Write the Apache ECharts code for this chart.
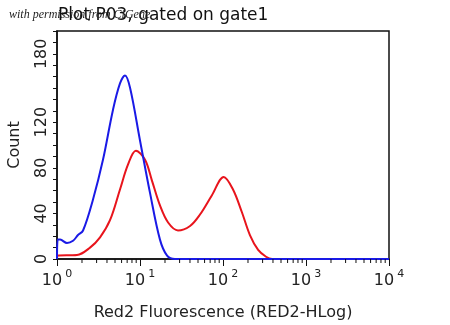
<!DOCTYPE html>
<html>
<head>
<meta charset="utf-8">
<script src="https://cdn.jsdelivr.net/npm/echarts@6/dist/echarts.min.js"></script>
<style>
  html, body { margin: 0; padding: 0; background: #fff; }
  #chart { width: 450px; height: 325px; }
</style>
</head>
<body>
<div id="chart"></div>
<script>
// Histogram of Red2 fluorescence (log scale) for two overlaid samples
const redX = [1, 1.02, 1.74, 2.5, 3.3, 4.35, 5.74, 7.18, 8.93, 11.5, 13.9, 17.4, 21.8, 28.7, 40.1, 52.8, 73.6, 102, 132, 169, 211, 265, 330, 391, 10000];
const redY = [0, 3, 3.5, 10, 19, 34, 61, 83, 95, 87, 69, 47, 32, 25, 29, 39, 56, 72, 61, 41, 21, 8, 2, 0, 0];

const blueX = [1, 1.02, 1.09, 1.32, 1.56, 1.79, 2.06, 2.71, 3.58, 4.73, 5.74, 6.6, 7.6, 10.0, 13.2, 17.4, 21.2, 26.4, 10000];
const blueY = [0, 17, 17, 14, 16, 21, 25, 52, 87, 131, 154, 161, 150, 104, 58, 17, 3, 0, 0];

const yTickLabels = [0, 40, 80, 120, 180];

// minor tick positions between decades (2..9 x 10^n)
const minorTicks = [];
for (let d = 0; d < 4; d++) {
  for (let m = 2; m <= 9; m++) minorTicks.push(m * Math.pow(10, d));
}

const FONT = 'DejaVu Sans';
const chart = echarts.init(document.getElementById('chart'));

chart.setOption({
  animation: false,
  backgroundColor: '#ffffff',
  graphic: [
    {
      type: 'text', left: 9, top: 9, z: 10,
      style: { text: 'with permission from CiGene', font: 'italic 12px "Liberation Serif"', fill: '#222' }
    }
  ],
  title: {
    text: 'Plot P03, gated on gate1',
    left: 53, top: 2,
    textStyle: { fontFamily: FONT, fontSize: 17, fontWeight: 'normal', color: '#111' }
  },
  grid: {
    left: 57, right: 61, top: 31, bottom: 66,
    outerBoundsMode: 'none', containLabel: false,
    show: true, borderColor: '#111', borderWidth: 1.5, backgroundColor: '#fff'
  },
  xAxis: {
    type: 'log', logBase: 10, min: 1, max: 10000,
    name: 'Red2 Fluorescence (RED2-HLog)',
    nameLocation: 'middle', nameGap: 46,
    nameTextStyle: { fontFamily: FONT, fontSize: 16, color: '#222' },
    axisLine: { lineStyle: { color: '#111', width: 1.5 } },
    axisTick: { inside: false, length: 7, lineStyle: { color: '#111' } },
    splitLine: { show: false },
    axisLabel: {
      margin: 10,
      showMaxLabel: true, showMinLabel: true,
      formatter: v => '{b|10}{s|' + Math.round(Math.log10(v)) + '}',
      rich: {
        b: { fontFamily: FONT, fontSize: 16, color: '#222' },
        s: { fontFamily: FONT, fontSize: 11, color: '#222', padding: [0, 0, 12, 3] }
      }
    }
  },
  yAxis: {
    type: 'value', min: 0, max: 200, interval: 10,
    name: 'Count', nameLocation: 'middle', nameGap: 34, nameRotate: 90,
    nameTextStyle: { fontFamily: FONT, fontSize: 16, color: '#222' },
    axisLine: { show: true, lineStyle: { color: '#111', width: 1.5 } },
    axisTick: { show: true, length: 4, lineStyle: { color: '#111' } },
    splitLine: { show: false },
    axisLabel: {
      rotate: 90, margin: 7,
      fontFamily: FONT, fontSize: 16, color: '#222',
      formatter: v => (yTickLabels.indexOf(v) >= 0 ? String(v) : '')
    }
  },
  series: [
    {
      type: 'custom', silent: true, clip: false, z: 5,
      data: minorTicks.map(v => [v, 0]),
      renderItem: (params, api) => {
        const p = api.coord([api.value(0), 0]);
        return {
          type: 'line',
          shape: { x1: p[0], y1: p[1], x2: p[0], y2: p[1] + 4 },
          style: { stroke: '#111', lineWidth: 1 }
        };
      }
    },
    {
      name: 'red', type: 'line', showSymbol: false, smooth: 0.35, clip: false,
      data: redX.map((x, i) => [x, redY[i]]),
      lineStyle: { color: '#e8141c', width: 2 }, z: 3
    },
    {
      name: 'blue', type: 'line', showSymbol: false, smooth: 0.35, clip: false,
      data: blueX.map((x, i) => [x, blueY[i]]),
      lineStyle: { color: '#1a1ae6', width: 2 }, z: 4
    }
  ]
});
</script>
</body>
</html>
